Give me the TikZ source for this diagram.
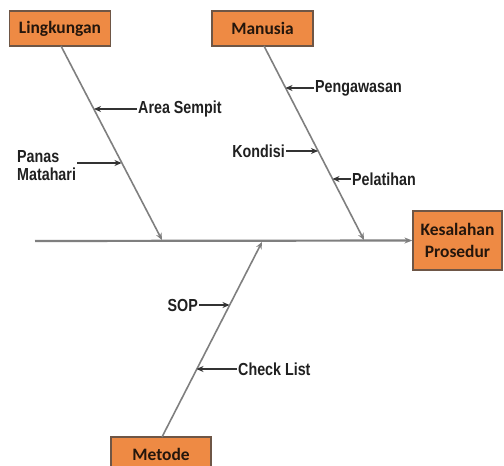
\documentclass[tikz,border=0pt]{standalone}
\usepackage{fontspec}
\setmainfont{Carlito}
\newfontfamily\lblfont{Liberation Sans}[FakeStretch=0.82]
\usetikzlibrary{arrows.meta}
\definecolor{boxfill}{HTML}{EE8A44}
\definecolor{boxline}{HTML}{6E5646}
\definecolor{boxtext}{HTML}{24160C}
\definecolor{bone}{HTML}{7F7F7F}
\definecolor{lblarrow}{HTML}{333333}
\definecolor{lbltext}{HTML}{202020}
\tikzset{
  catbox/.style={draw=boxline, line width=1.2pt, fill=boxfill, text=boxtext,
    font=\fontsize{17.5}{20}\selectfont\bfseries, inner sep=0pt, align=center},
  bonestyle/.style={draw=bone, line width=1.6pt, -{Stealth[length=7pt,width=6pt]}},
  spinestyle/.style={draw=bone, line width=2.2pt, -{Stealth[length=8pt,width=6pt]}},
  lbl/.style={font=\lblfont\fontsize{17.5}{19}\selectfont\bfseries, text=lbltext, inner sep=1pt},
  lblarr/.style={draw=lblarrow, line width=1.3pt, -{Stealth[length=7pt,width=6pt]}}
}
\begin{document}
\begin{tikzpicture}[x=1bp,y=-1bp]
\useasboundingbox (0,0) rectangle (504,466);
\clip (0,0) rectangle (504,466);
\fill[white] (0,0) rectangle (504,466);
% category boxes
\node[catbox, minimum width=101bp, minimum height=35bp] (L) at (60,28.5) {Lingkungan};
\node[catbox, minimum width=101bp, minimum height=35bp] (M) at (262.5,28.5) {Manusia};
\node[catbox, minimum width=100bp, minimum height=35bp] (T) at (161,454.5) {Metode};
\node[catbox, minimum width=89bp, minimum height=59bp] (K) at (457.5,240.5) {Kesalahan\\[2pt]Prosedur};
% spine
\coordinate (s0) at (35,241);
\draw[spinestyle] (s0) -- (K.west);
% bones
\coordinate (Lt) at (61,46);
\coordinate (Le) at (162,240);
\coordinate (Mt) at (264,46);
\coordinate (Me) at (364,240);
\coordinate (Tt) at (162,437);
\coordinate (Te) at (262,242);
\draw[bonestyle] (Lt) -- (Le);
\draw[bonestyle] (Mt) -- (Me);
\draw[bonestyle] (Tt) -- (Te);
% Lingkungan causes
\node[lbl, anchor=west] (a1) at (137,109) {Area Sempit};
\coordinate (a1b) at (94,109);
\draw[lblarr] (a1.west) -- (a1b);
\node[lbl, anchor=west, align=left] (a2) at (16,166) {Panas\\[-1pt]Matahari};
\coordinate (a2s) at (77,163);
\coordinate (a2b) at (121.5,163);
\draw[lblarr] (a2s) -- (a2b);
% Manusia causes
\node[lbl, anchor=west] (m1) at (314,88) {Pengawasan};
\coordinate (m1b) at (285.5,88);
\draw[lblarr] (m1.west) -- (m1b);
\node[lbl, anchor=east] (m2) at (286,151) {Kondisi};
\coordinate (m2b) at (318,151);
\draw[lblarr] (m2.east) -- (m2b);
\node[lbl, anchor=west] (m3) at (351,179) {Pelatihan};
\coordinate (m3b) at (332.5,179);
\draw[lblarr] (m3.west) -- (m3b);
% Metode causes
\node[lbl, anchor=east] (t1) at (199,305) {SOP};
\coordinate (t1b) at (229.5,305);
\draw[lblarr] (t1.east) -- (t1b);
\node[lbl, anchor=west] (t2) at (237,369) {Check List};
\coordinate (t2b) at (196.5,369);
\draw[lblarr] (t2.west) -- (t2b);
\end{tikzpicture}
\end{document}
